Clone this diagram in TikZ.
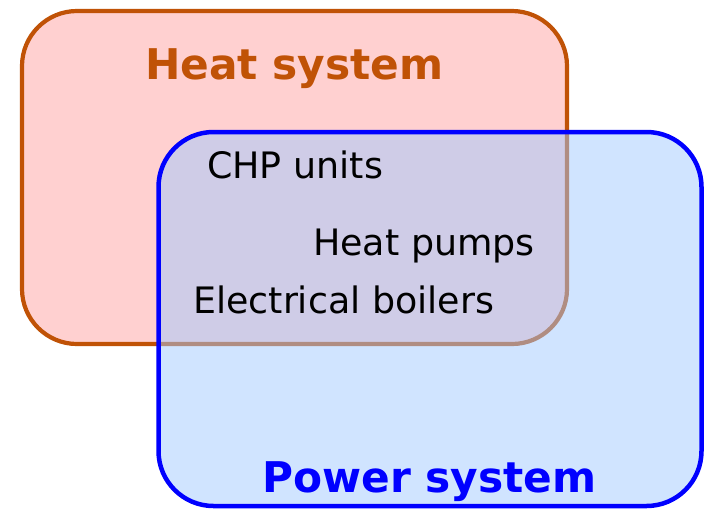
\documentclass[tikz,border=0pt]{standalone}
\usepackage{fontspec}
\setmainfont{DejaVu Sans}
\definecolor{heatdraw}{RGB}{192,82,6}
\definecolor{heatfill}{RGB}{255,208,208}
\definecolor{powfill}{RGB}{161,201,255}
\definecolor{powdraw}{RGB}{0,0,255}
\tikzset{
  heatbox/.style={draw=heatdraw, fill=heatfill, line width=4.2pt, rounded corners=55pt},
  powbox/.style={draw=powdraw, fill=powfill, fill opacity=0.5, line width=4.5pt, rounded corners=55pt},
  title/.style={font=\fontsize{42.3}{46}\selectfont\bfseries, inner sep=0pt, anchor=base west},
  item/.style={font=\fontsize{36.4}{40}\selectfont, inner sep=0pt, anchor=base west, text=black},
}
\begin{document}
\begin{tikzpicture}[x=1pt,y=-1pt]
\useasboundingbox (0,0) rectangle (706,509);
\draw[heatbox] (22,11) rectangle (567,344);
\draw[powbox] (158.5,132) rectangle (701.5,506);
\node[title, text=heatdraw] (heat) at (145,79) {Heat system};
\node[title, text=powdraw] (power) at (262,492) {Power system};
\node[item] (chp) at (207,178) {CHP units};
\node[item] (hp) at (313,255) {Heat pumps};
\node[item] (eb) at (193,313) {Electrical boilers};
\end{tikzpicture}
\end{document}
